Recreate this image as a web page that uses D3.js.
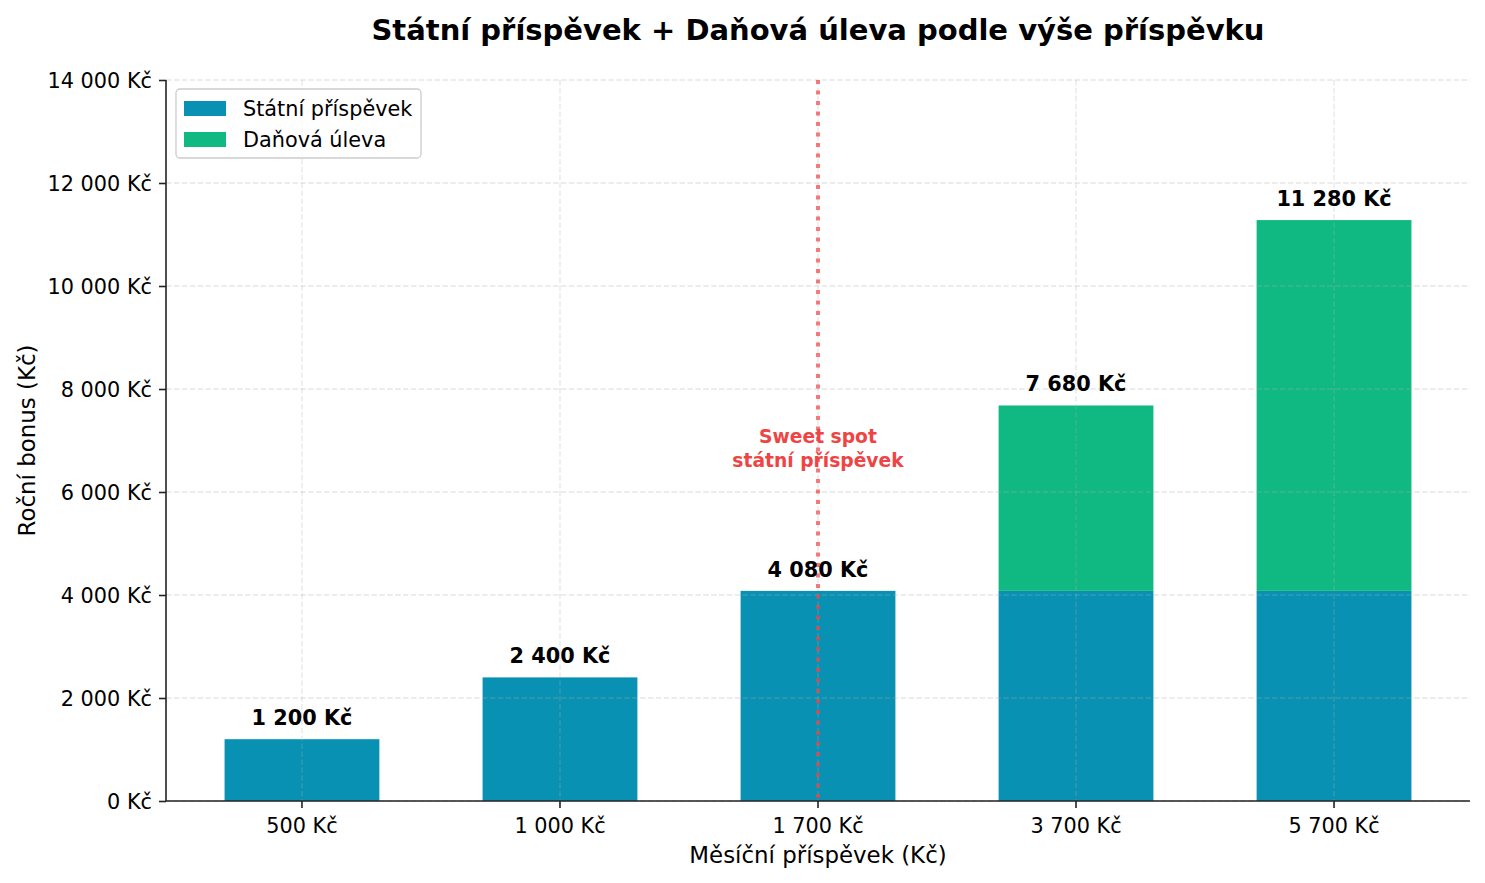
<!DOCTYPE html>
<html>
<head>
<meta charset="utf-8">
<script src="https://cdn.jsdelivr.net/npm/d3@7"></script>
<style>
  body { margin: 0; background: #fff; }
  text { font-family: "DejaVu Sans", sans-serif; }
</style>
</head>
<body>
<div id="chart"></div>
<script>
// monthly contribution categories
const contributions = ["500 Kč", "1 000 Kč", "1 700 Kč", "3 700 Kč", "5 700 Kč"];
// yearly bonus parts (Kč)
const stateSupport = [1200, 2400, 4080, 4080, 4080];
const taxRelief = [0, 0, 0, 3600, 7200];
const totals = [1200, 2400, 4080, 7680, 11280];
const yTicks = [0, 2000, 4000, 6000, 8000, 10000, 12000, 14000];
const sweetSpotIndex = 2;
const sweetSpotLabel = ["Sweet spot", "státní příspěvek"];

const W = 1485, H = 883;
const margin = { top: 80, right: 15, bottom: 82, left: 166 };
const width = W - margin.left - margin.right;
const height = H - margin.top - margin.bottom;

const COLORS = { state: "#0891b2", tax: "#10b981", sweet: "#ef4444" };

const fmt = v => d3.format(",")(v).replace(/,/g, " ") + " Kč";

const svg = d3.select("#chart")
    .append("svg")
    .attr("width", W)
    .attr("height", H);

const g = svg.append("g")
    .attr("transform", `translate(${margin.left},${margin.top})`);

const xScale = d3.scaleBand()
    .domain(contributions)
    .range([0, width])
    .paddingInner(0.4)
    .paddingOuter(0.227);

const yScale = d3.scaleLinear()
    .domain([0, 14000])
    .range([height, 0]);

// stacked bars
const rows = contributions.map((c, i) => ({ cat: c, state: stateSupport[i], tax: taxRelief[i], total: totals[i] }));

g.selectAll(".bar-state")
    .data(rows)
    .enter()
    .append("rect")
    .attr("class", "bar-state")
    .attr("x", d => xScale(d.cat))
    .attr("width", xScale.bandwidth())
    .attr("y", d => yScale(d.state))
    .attr("height", d => yScale(0) - yScale(d.state))
    .attr("fill", COLORS.state);

g.selectAll(".bar-tax")
    .data(rows.filter(d => d.tax > 0))
    .enter()
    .append("rect")
    .attr("class", "bar-tax")
    .attr("x", d => xScale(d.cat))
    .attr("width", xScale.bandwidth())
    .attr("y", d => yScale(d.state + d.tax))
    .attr("height", d => yScale(d.state) - yScale(d.state + d.tax))
    .attr("fill", COLORS.tax);

// grid (drawn above bars like the original)
const grid = g.append("g").attr("class", "grid");
grid.selectAll(".hgrid")
    .data(yTicks)
    .enter()
    .append("line")
    .attr("x1", 0).attr("x2", width)
    .attr("y1", d => yScale(d)).attr("y2", d => yScale(d))
    .attr("stroke", "#b0b0b0")
    .attr("stroke-opacity", 0.3)
    .attr("stroke-width", 1.3)
    .attr("stroke-dasharray", "5.5,2.4");
grid.selectAll(".vgrid")
    .data(contributions)
    .enter()
    .append("line")
    .attr("y1", 0).attr("y2", height)
    .attr("x1", d => xScale(d) + xScale.bandwidth() / 2)
    .attr("x2", d => xScale(d) + xScale.bandwidth() / 2)
    .attr("stroke", "#b0b0b0")
    .attr("stroke-opacity", 0.3)
    .attr("stroke-width", 1.3)
    .attr("stroke-dasharray", "5.5,2.4");

// sweet spot annotation, then its dotted line on top
const sx = xScale(contributions[sweetSpotIndex]) + xScale.bandwidth() / 2;
const sweetText = g.append("text")
    .attr("x", sx)
    .attr("y", yScale(6860))
    .attr("text-anchor", "middle")
    .attr("fill", COLORS.sweet)
    .style("font-size", "18.7px")
    .style("font-weight", "bold");
sweetText.selectAll("tspan")
    .data(sweetSpotLabel)
    .enter()
    .append("tspan")
    .attr("x", sx)
    .attr("dy", (d, i) => i === 0 ? "-0.25em" : "1.3em")
    .text(d => d);

g.append("line")
    .attr("x1", sx).attr("x2", sx)
    .attr("y1", 0).attr("y2", height)
    .attr("stroke", COLORS.sweet)
    .attr("stroke-opacity", 0.7)
    .attr("stroke-width", 4)
    .attr("stroke-dasharray", "4,6.5");

// value labels
g.selectAll(".value-label")
    .data(rows)
    .enter()
    .append("text")
    .attr("class", "value-label")
    .attr("x", d => xScale(d.cat) + xScale.bandwidth() / 2)
    .attr("y", d => yScale(d.total) - 14)
    .attr("text-anchor", "middle")
    .style("font-size", "20.8px")
    .style("font-weight", "bold")
    .text(d => fmt(d.total));

// axes
const xAxis = d3.axisBottom(xScale).tickSize(7).tickPadding(10);
const yAxis = d3.axisLeft(yScale).tickValues(yTicks).tickFormat(fmt).tickSize(7).tickPadding(7);

const gx = g.append("g").attr("transform", `translate(0,${height})`).call(xAxis);
const gy = g.append("g").call(yAxis);

[gx, gy].forEach(ax => {
    ax.select(".domain").attr("stroke", "#222").attr("stroke-width", 1.6);
    ax.selectAll(".tick line").attr("stroke", "#222").attr("stroke-width", 1.6);
    ax.selectAll(".tick text")
        .attr("fill", "#000")
        .style("font-family", "DejaVu Sans, sans-serif")
        .style("font-size", "20.8px");
});
gx.select(".domain").attr("d", `M0,0H${width}`);
gy.select(".domain").attr("d", `M0,${height}V0`);
gy.selectAll(".tick text").attr("dy", "0.36em");

// axis labels
g.append("text")
    .attr("x", width / 2)
    .attr("y", height + 62)
    .attr("text-anchor", "middle")
    .style("font-size", "22.9px")
    .text("Měsíční příspěvek (Kč)");

g.append("text")
    .attr("transform", `translate(${35 - margin.left},${height / 2}) rotate(-90)`)
    .attr("text-anchor", "middle")
    .style("font-size", "22.9px")
    .text("Roční bonus (Kč)");

// title
svg.append("text")
    .attr("x", margin.left + width / 2)
    .attr("y", 40)
    .attr("text-anchor", "middle")
    .style("font-size", "29px")
    .style("font-weight", "bold")
    .text("Státní příspěvek + Daňová úleva podle výše příspěvku");

// legend
const legend = g.append("g").attr("transform", "translate(10,9)");
legend.append("rect")
    .attr("width", 245).attr("height", 69)
    .attr("rx", 4)
    .attr("fill", "#fff").attr("fill-opacity", 0.8)
    .attr("stroke", "#ccc").attr("stroke-width", 1.3);
const legendItems = [
    { label: "Státní příspěvek", color: COLORS.state },
    { label: "Daňová úleva", color: COLORS.tax }
];
legendItems.forEach((d, i) => {
    const row = legend.append("g").attr("transform", `translate(8,${12 + i * 31})`);
    row.append("rect").attr("width", 42).attr("height", 15).attr("fill", d.color);
    row.append("text")
        .attr("x", 59).attr("y", 15)
        .style("font-size", "20.8px")
        .text(d.label);
});
</script>
</body>
</html>
